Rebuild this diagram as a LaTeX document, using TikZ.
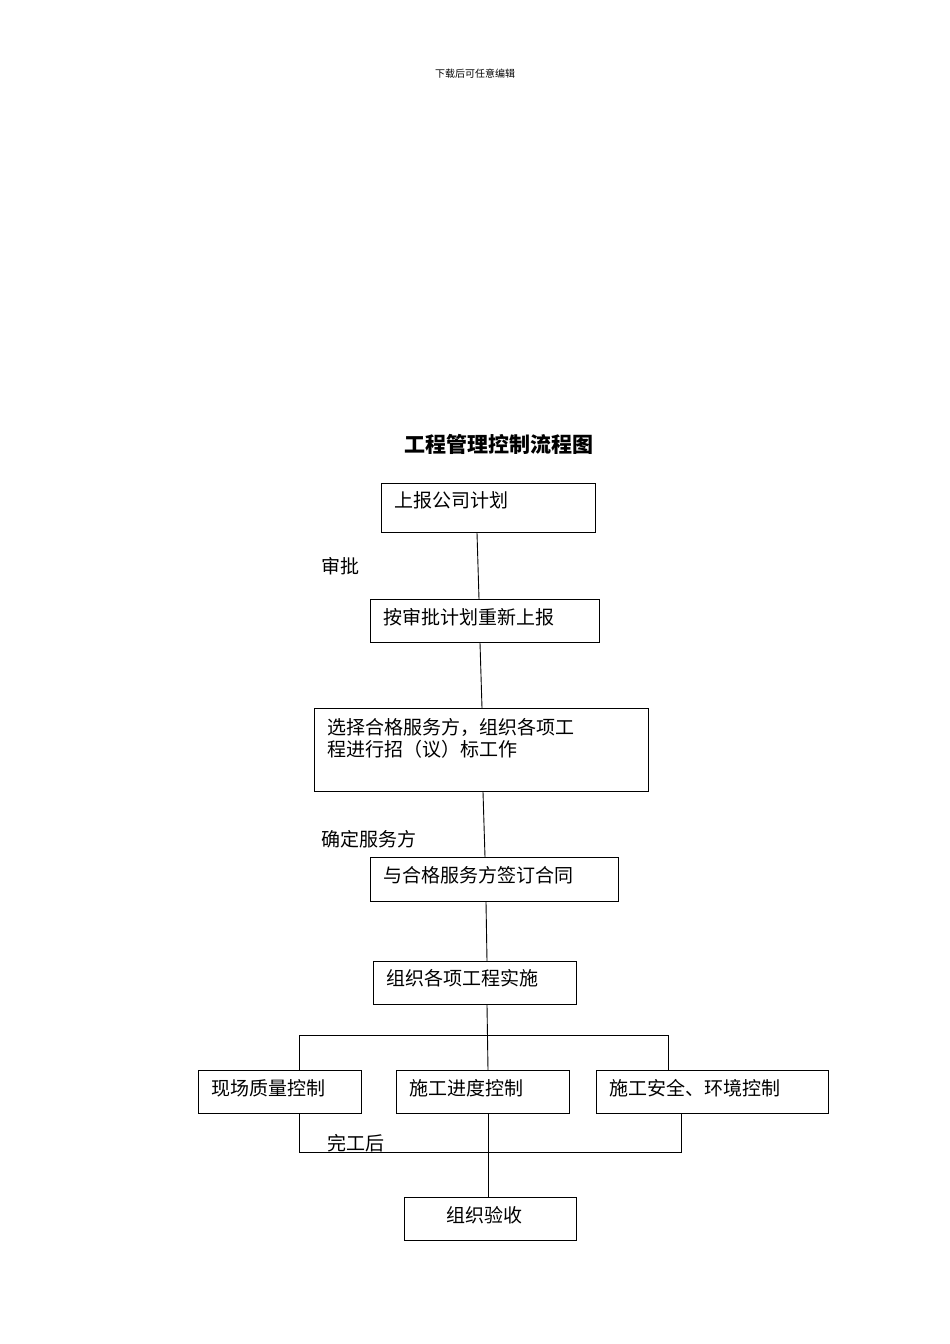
\documentclass[tikz,border=0pt]{standalone}
\usepackage{fontspec}
\newfontfamily\cjk{Noto Sans CJK SC}
\begin{document}
\begin{tikzpicture}[x=1pt,y=-1pt,
  box/.style={draw,line width=0.9pt,inner sep=0pt,anchor=north west},
  txt/.style={font=\cjk\fontsize{19}{22}\selectfont,anchor=west,inner sep=0pt},
  ln/.style={line width=0.9pt}]
\useasboundingbox (0,0) rectangle (950,1344);
\node[font=\cjk\fontsize{10}{12}\selectfont] (hdr) at (475,74) {下载后可任意编辑};
\node[font=\cjk\bfseries\fontsize{21}{24}\selectfont] (title) at (499,444) {工程管理控制流程图};
% boxes
\node[box,minimum width=214,minimum height=49] (b1) at (381,483) {};
\node[txt] at (394,500) {上报公司计划};
\node[box,minimum width=229,minimum height=43] (b2) at (370,599) {};
\node[txt] at (383,617) {按审批计划重新上报};
\node[box,minimum width=334,minimum height=83] (b3) at (314,708) {};
\node[txt] at (327,727) {选择合格服务方，组织各项工};
\node[txt] at (327,749) {程进行招（议）标工作};
\node[box,minimum width=248,minimum height=44] (b4) at (370,857) {};
\node[txt] at (383,875) {与合格服务方签订合同};
\node[box,minimum width=203,minimum height=43] (b5) at (373,961) {};
\node[txt] at (386,978) {组织各项工程实施};
\node[box,minimum width=163,minimum height=43] (b6) at (198,1070) {};
\node[txt] at (211,1088) {现场质量控制};
\node[box,minimum width=173,minimum height=43] (b7) at (396,1070) {};
\node[txt] at (409,1088) {施工进度控制};
\node[box,minimum width=232,minimum height=43] (b8) at (596,1070) {};
\node[txt] at (609,1088) {施工安全、环境控制};
\node[box,minimum width=172,minimum height=43] (b9) at (404,1197) {};
\node[txt] at (446,1215) {组织验收};
% labels
\node[txt] (l1) at (321,566) {审批};
\node[txt] (l2) at (321,839) {确定服务方};
\node[txt] (l3) at (327,1143) {完工后};
% connectors
\draw[ln] (b1.south -| 477,0) -- (b2.north -| 479,0);
\draw[ln] (b2.south -| 480,0) -- (b3.north -| 482,0);
\draw[ln] (b3.south -| 483,0) -- (b4.north -| 485,0);
\draw[ln] (b4.south -| 486,0) -- (b5.north -| 487,0);
\draw[ln] (b5.south -| 487,0) -- (b7.north -| 488,0);
\coordinate (jl) at (299,1035);
\coordinate (jr) at (668,1035);
\draw[ln] (b6.north -| jl) -- (jl) -- (jr) -- (b8.north -| jr);
\coordinate (kl) at (299,1152);
\coordinate (kr) at (681,1152);
\draw[ln] (b6.south -| kl) -- (kl) -- (kr) -- (b8.south -| kr);
\draw[ln] (b7.south -| 488,0) -- (b9.north -| 488,0);
\end{tikzpicture}
\end{document}
